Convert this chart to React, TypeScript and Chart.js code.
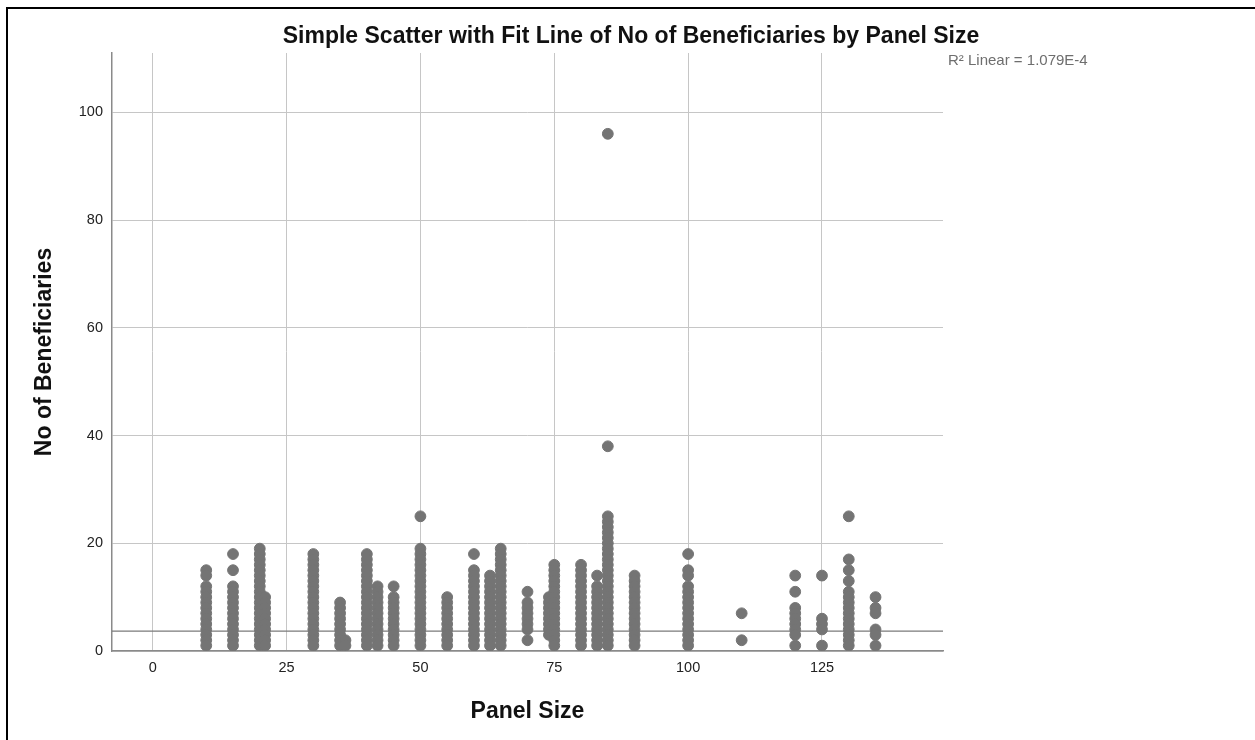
import { useEffect, useRef } from 'react';
import { Chart, registerables } from 'chart.js';

Chart.register(...registerables);

const TITLE = 'Simple Scatter with Fit Line of No of Beneficiaries by Panel Size';
const X_TITLE = 'Panel Size';
const Y_TITLE = 'No of Beneficiaries';
const FIT_LABEL = 'R\u00B2 Linear = 1.079E-4';

const xTicks = [0, 25, 50, 75, 100, 125];
const yTicks = [0, 20, 40, 60, 80, 100];
const xMin = -7.6;
const xMax = 147.6;
const yMin = 0;
const yMax = 111;
const fitLineY = [3.7, 3.7];

// Beneficiaries observed at each panel size
const panel10 = [15, 14, 12, 11, 10, 9, 8, 7, 6, 5, 4, 3, 2, 1];
const panel15 = [18, 15, 12, 11, 10, 9, 8, 7, 6, 5, 4, 3, 2, 1];
const panel20 = [19, 18, 17, 16, 15, 14, 13, 12, 11, 10, 9, 8, 7, 6, 5, 4, 3, 2, 1];
const panel21 = [10, 9, 8, 7, 6, 5, 4, 3, 2, 1];
const panel30 = [18, 17, 16, 15, 14, 13, 12, 11, 10, 9, 8, 7, 6, 5, 4, 3, 2, 1];
const panel35 = [9, 8, 7, 6, 5, 4, 3, 2, 1];
const panel36 = [2, 1];
const panel40 = [18, 17, 16, 15, 14, 13, 12, 11, 10, 9, 8, 7, 6, 5, 4, 3, 2, 1];
const panel42 = [12, 11, 10, 9, 8, 7, 6, 5, 4, 3, 2, 1];
const panel45 = [12, 10, 9, 8, 7, 6, 5, 4, 3, 2, 1];
const panel50 = [25, 19, 18, 17, 16, 15, 14, 13, 12, 11, 10, 9, 8, 7, 6, 5, 4, 3, 2, 1];
const panel55 = [10, 9, 8, 7, 6, 5, 4, 3, 2, 1];
const panel60 = [18, 15, 14, 13, 12, 11, 10, 9, 8, 7, 6, 5, 4, 3, 2, 1];
const panel63 = [14, 13, 12, 11, 10, 9, 8, 7, 6, 5, 4, 3, 2, 1];
const panel65 = [19, 18, 17, 16, 15, 14, 13, 12, 11, 10, 9, 8, 7, 6, 5, 4, 3, 2, 1];
const panel70 = [11, 9, 8, 7, 6, 5, 4, 2];
const panel74 = [10, 9, 8, 7, 6, 5, 4, 3];
const panel75 = [16, 15, 14, 13, 12, 11, 10, 9, 8, 7, 6, 5, 4, 3, 2, 1];
const panel80 = [16, 15, 14, 13, 12, 11, 10, 9, 8, 7, 6, 5, 4, 3, 2, 1];
const panel83 = [14, 12, 11, 10, 9, 8, 7, 6, 5, 4, 3, 2, 1];
const panel85 = [96, 38, 25, 24, 23, 22, 21, 20, 19, 18, 17, 16, 15, 14, 13, 12, 11, 10, 9, 8, 7, 6, 5, 4, 3, 2, 1];
const panel90 = [14, 13, 12, 11, 10, 9, 8, 7, 6, 5, 4, 3, 2, 1];
const panel100 = [18, 15, 14, 12, 11, 10, 9, 8, 7, 6, 5, 4, 3, 2, 1];
const panel110 = [7, 2];
const panel120 = [14, 11, 8, 7, 6, 5, 4, 3, 1];
const panel125 = [14, 6, 5, 4, 1];
const panel130 = [25, 17, 15, 13, 11, 10, 9, 8, 7, 6, 5, 4, 3, 2, 1];
const panel135 = [10, 8, 7, 4, 3, 1];

const panelSizes = [10, 15, 20, 21, 30, 35, 36, 40, 42, 45, 50, 55, 60, 63, 65, 70, 74, 75, 80, 83, 85, 90, 100, 110, 120, 125, 130, 135];
const beneficiaryColumns = [
  panel10, panel15, panel20, panel21, panel30, panel35, panel36, panel40, panel42, panel45,
  panel50, panel55, panel60, panel63, panel65, panel70, panel74, panel75, panel80, panel83,
  panel85, panel90, panel100, panel110, panel120, panel125, panel130, panel135,
];

const FONT = '"Liberation Sans", Arial, sans-serif';

export default function App() {
  const ref = useRef<HTMLCanvasElement | null>(null);

  useEffect(() => {
    if (!ref.current) return;
    const points: { x: number; y: number }[] = [];
    panelSizes.forEach((p, i) => {
      beneficiaryColumns[i].forEach((v) => points.push({ x: p, y: v }));
    });

    const decor = {
      id: 'decor',
      afterDraw(chart: any) {
        const ctx = chart.ctx as CanvasRenderingContext2D;
        ctx.save();
        ctx.fillStyle = '#000';
        ctx.fillRect(6, 7, 2, 740);
        ctx.fillRect(6, 7, 1255, 2);
        ctx.font = `bold 23px ${FONT}`;
        ctx.textAlign = 'center';
        ctx.textBaseline = 'alphabetic';
        ctx.fillStyle = '#111';
        ctx.fillText(TITLE, 631, 43);
        ctx.font = `15px ${FONT}`;
        ctx.textAlign = 'left';
        ctx.fillStyle = '#6e6e6e';
        ctx.fillText(FIT_LABEL, 948, 65);
        ctx.restore();
      },
    };

    const chart = new Chart(ref.current, {
      type: 'scatter',
      data: {
        datasets: [
          {
            type: 'line',
            data: [
              { x: xMin, y: fitLineY[0] },
              { x: xMax, y: fitLineY[1] },
            ],
            borderColor: '#7a7a7a',
            borderWidth: 1.3,
            pointRadius: 0,
            fill: false,
            order: 2,
          } as any,
          {
            data: points,
            backgroundColor: '#747474',
            borderColor: '#747474',
            borderWidth: 1,
            pointRadius: 5.4,
            pointHoverRadius: 5.4,
            order: 1,
          },
        ],
      },
      options: {
        animation: false,
        responsive: false,
        devicePixelRatio: 1,
        layout: { padding: { left: 0, right: 312, top: 53, bottom: 0 } },
        plugins: {
          legend: { display: false },
          tooltip: { enabled: false },
          title: { display: false },
        },
        scales: {
          x: {
            type: 'linear',
            min: xMin,
            max: xMax,
            afterBuildTicks: (scale: any) => {
              scale.ticks = xTicks.map((v) => ({ value: v }));
            },
            afterFit: (scale: any) => {
              scale.height = 89;
            },
            grid: { color: '#c6c6c6', lineWidth: 1, drawTicks: false },
            border: { color: '#8a8a8a', width: 1.5 },
            ticks: {
              padding: 8,
              color: '#222',
              font: { family: FONT, size: 14.5 },
              maxRotation: 0,
            },
            title: {
              display: true,
              text: X_TITLE,
              color: '#111',
              font: { family: FONT, size: 23, weight: 'bold' },
              padding: { top: 0, bottom: 15 },
            },
          },
          y: {
            type: 'linear',
            min: yMin,
            max: yMax,
            afterBuildTicks: (scale: any) => {
              scale.ticks = yTicks.map((v) => ({ value: v }));
            },
            afterFit: (scale: any) => {
              scale.width = 112;
            },
            grid: { color: '#c6c6c6', lineWidth: 1, drawTicks: false },
            border: { color: '#8a8a8a', width: 1.5 },
            ticks: {
              padding: 9,
              color: '#222',
              font: { family: FONT, size: 14.5 },
            },
            title: {
              display: true,
              text: Y_TITLE,
              color: '#111',
              font: { family: FONT, size: 23, weight: 'bold' },
              padding: { top: 31, bottom: 0 },
            },
          },
        },
      },
      plugins: [decor],
    });
    return () => chart.destroy();
  }, []);

  return (
    <div style={{ position: 'absolute', left: 0, top: 0, width: 1255, height: 740, background: '#fff' }}>
      <canvas ref={ref} width={1255} height={740} style={{ display: 'block' }} />
    </div>
  );
}
